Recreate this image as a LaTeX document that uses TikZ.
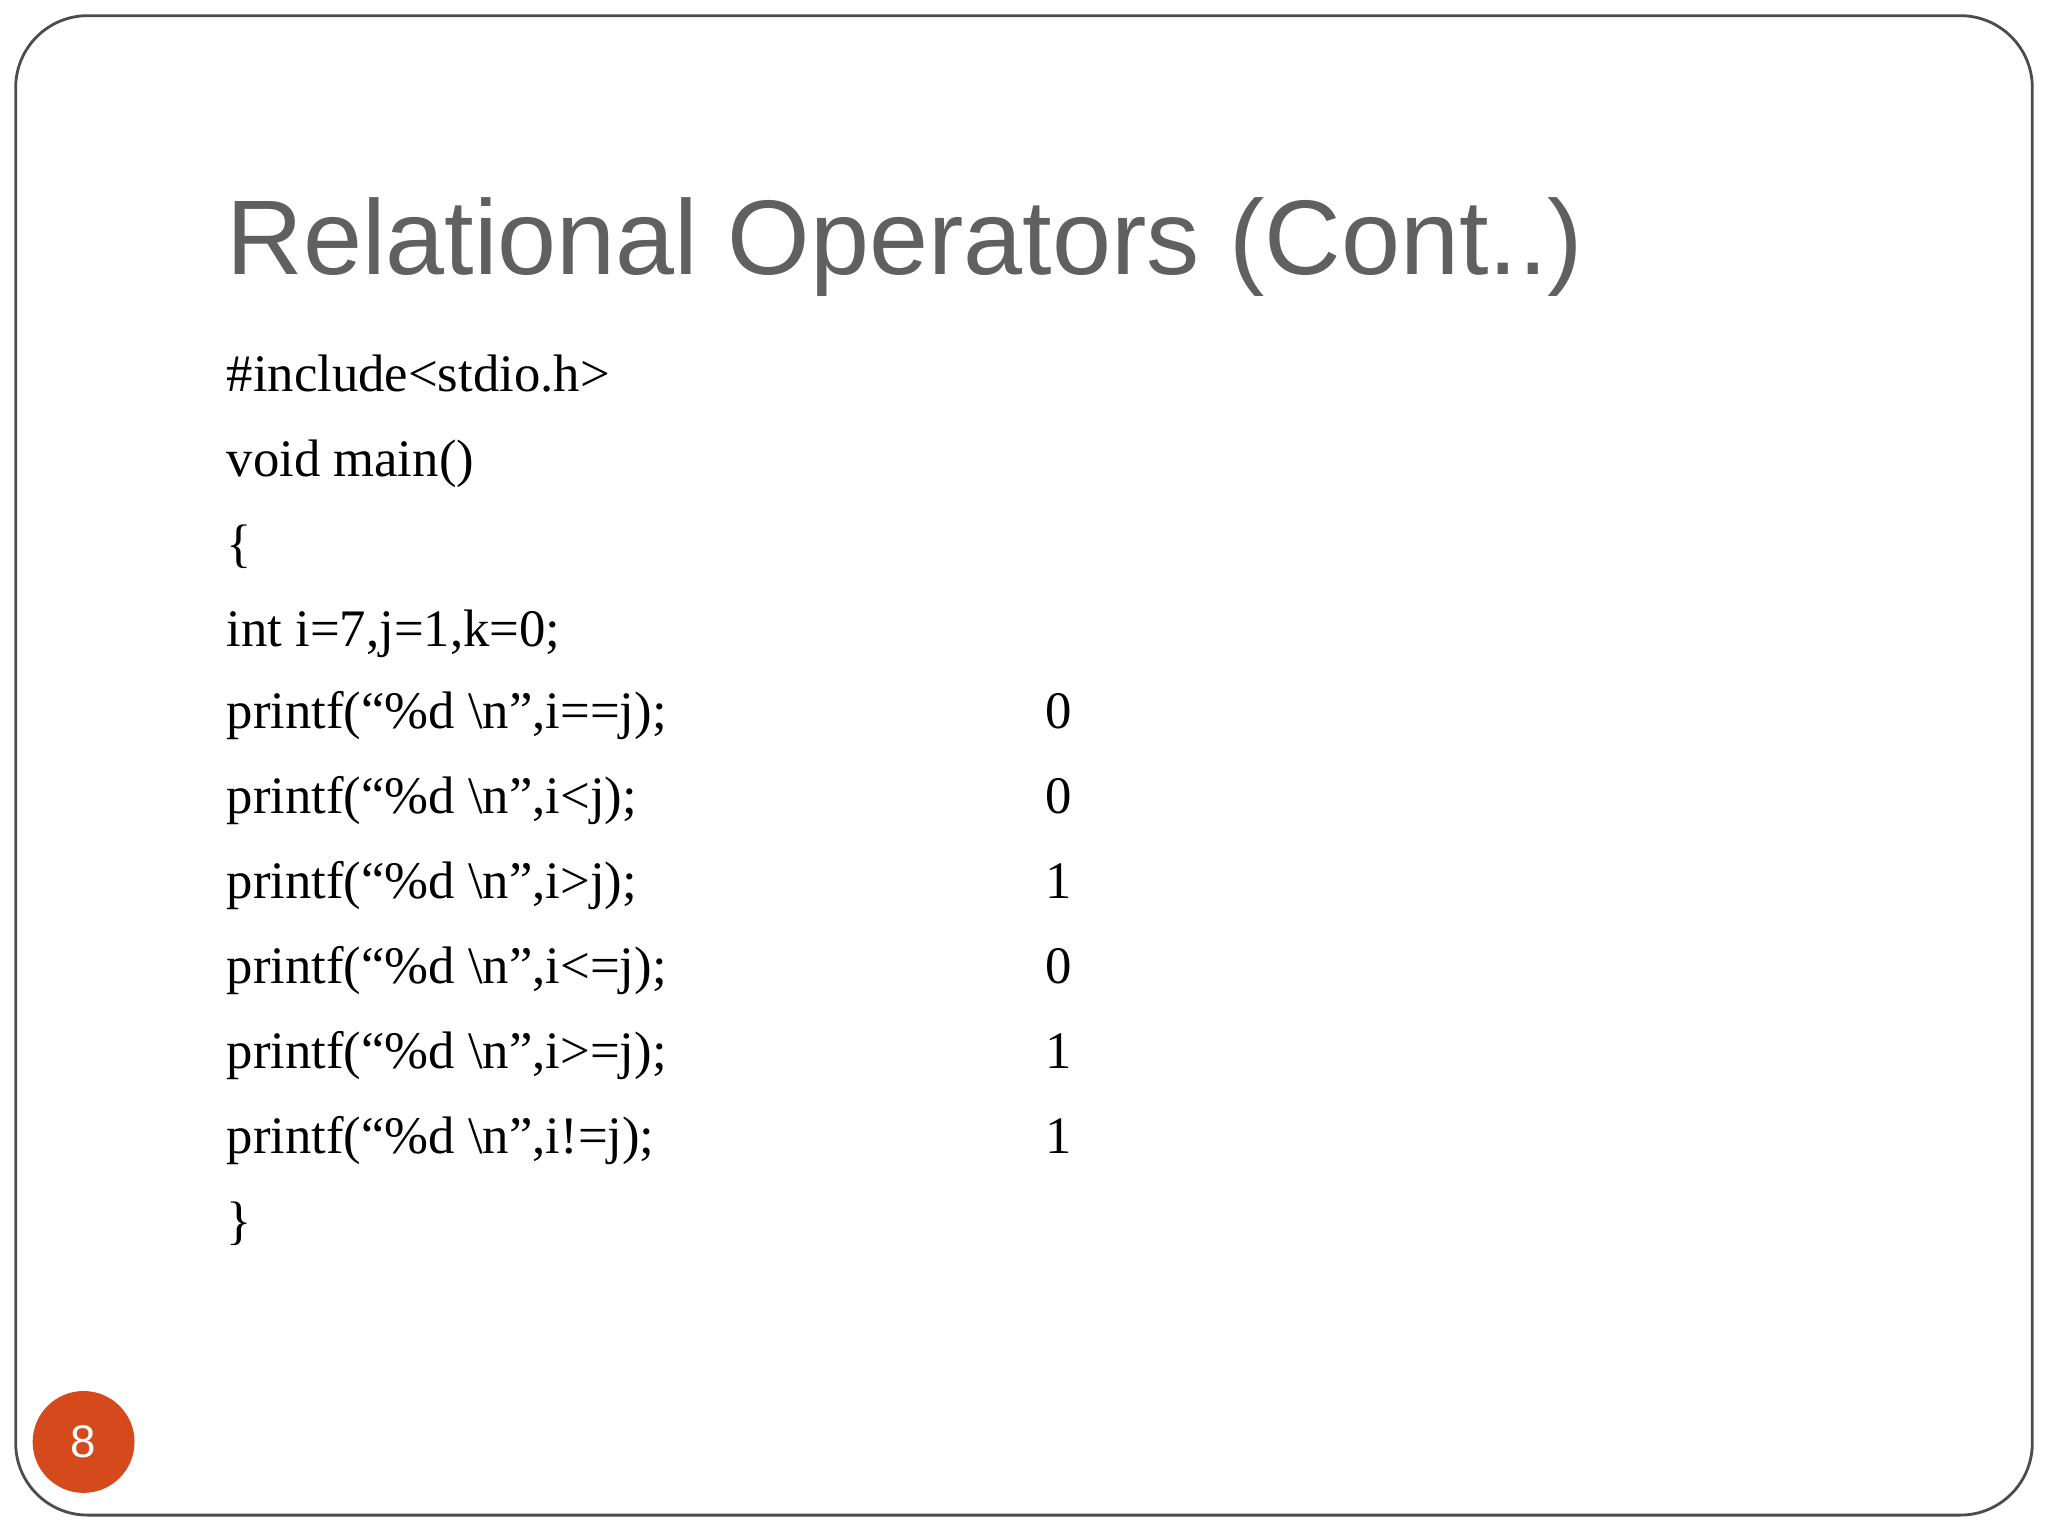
\documentclass[tikz,border=0pt]{standalone}
\usepackage{fontspec}
\setmainfont{Liberation Serif}
\newfontfamily\titlefont{Liberation Sans}
\definecolor{titlegray}{HTML}{606060}
\definecolor{badge}{HTML}{D44A1C}
\begin{document}
\begin{tikzpicture}[x=0.013061cm,y=-0.013061cm,
  codeline/.style={anchor=base west,inner sep=0pt,font=\fontsize{15}{17}\selectfont},
  outval/.style={anchor=base west,inner sep=0pt,font=\fontsize{15}{17}\selectfont}]
\useasboundingbox (0,0) rectangle (1568,1176);
\fill[white] (0,0) rectangle (1568,1176);
\draw[black!70,line width=0.8pt,rounded corners=0.72cm] (12,12) rectangle (1556,1160);
\node[anchor=base west,inner sep=0pt,text=titlegray,font=\titlefont\fontsize{30.2}{34}\selectfont] (title) at (173,210) {Relational Operators (Cont..)};
\node[codeline] (l1) at (173,300) {\#include<stdio.h>};
\node[codeline] (l2) at (173,365) {void main()};
\node[codeline] (l3) at (173,430) {\{};
\node[codeline] (l4) at (173,495) {int i=7,j=1,k=0;};
\node[codeline] (l5) at (173,558) {printf(“\%d \textbackslash n”,i==j);};
\node[codeline] (l6) at (173,623) {printf(“\%d \textbackslash n”,i<j);};
\node[codeline] (l7) at (173,688) {printf(“\%d \textbackslash n”,i>j);};
\node[codeline] (l8) at (173,753) {printf(“\%d \textbackslash n”,i<=j);};
\node[codeline] (l9) at (173,818) {printf(“\%d \textbackslash n”,i>=j);};
\node[codeline] (l10) at (173,883) {printf(“\%d \textbackslash n”,i!=j);};
\node[codeline] (l11) at (173,948) {\}};
\node[outval] (v1) at (800,558) {0};
\node[outval] (v2) at (800,623) {0};
\node[outval] (v3) at (800,688) {1};
\node[outval] (v4) at (800,753) {0};
\node[outval] (v5) at (800,818) {1};
\node[outval] (v6) at (800,883) {1};
\node[circle,fill=badge,minimum size=78*0.013061cm,inner sep=0pt,text=white,font=\titlefont\fontsize{13}{15}\selectfont] (num) at (64,1104) {8};
\end{tikzpicture}
\end{document}
